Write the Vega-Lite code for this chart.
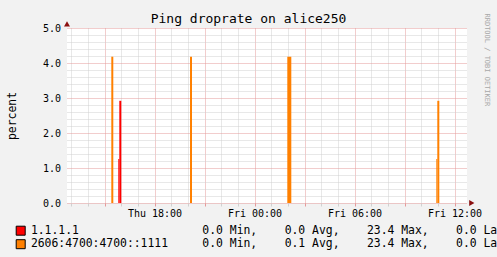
{
  "$schema": "https://vega.github.io/schema/vega-lite/v6.json",
  "width": 400,
  "height": 175,
  "autosize": {"type": "none"},
  "padding": {"left": 67, "top": 28, "right": 30, "bottom": 54},
  "background": "#f2f2f2",
  "config": {
    "view": {"stroke": null, "fill": "#ffffff"},
    "font": "DejaVu Sans Mono"
  },
  "datasets": {
    "spikes": [
      {"series": "1.1.1.1", "start": "2024-01-04T15:49:40Z", "end": "2024-01-04T15:53:20Z", "value": 1.26},
      {"series": "1.1.1.1", "start": "2024-01-04T15:53:20Z", "end": "2024-01-04T16:00:30Z", "value": 2.92},
      {"series": "2606:4700:4700::1111", "start": "2024-01-04T15:24:30Z", "end": "2024-01-04T15:31:40Z", "value": 4.18},
      {"series": "2606:4700:4700::1111", "start": "2024-01-04T20:07:50Z", "end": "2024-01-04T20:15:00Z", "value": 4.18},
      {"series": "2606:4700:4700::1111", "start": "2024-01-05T01:58:05Z", "end": "2024-01-05T02:12:30Z", "value": 4.18},
      {"series": "2606:4700:4700::1111", "start": "2024-01-05T10:54:30Z", "end": "2024-01-05T10:58:05Z", "value": 1.26},
      {"series": "2606:4700:4700::1111", "start": "2024-01-05T10:58:05Z", "end": "2024-01-05T11:05:20Z", "value": 2.92}
    ],
    "arrows": [
      {"axis": "time", "t": 1704459738000, "v": 0},
      {"axis": "percent", "t": 1704372300000, "v": 5.12}
    ]
  },
  "resolve": {"axis": {"x": "independent", "y": "independent"}},
  "layer": [
    {
      "data": {"name": "spikes"},
      "mark": {"type": "rect"},
      "encoding": {
        "x": {
          "field": "start",
          "type": "temporal",
          "scale": {"type": "utc", "domain": [1704372300000, 1704458700000]},
          "axis": {
            "orient": "bottom",
            "title": null,
            "values": [1704373200000, 1704376800000, 1704380400000, 1704384000000, 1704387600000, 1704391200000, 1704394800000, 1704398400000, 1704402000000, 1704405600000, 1704409200000, 1704412800000, 1704416400000, 1704420000000, 1704423600000, 1704427200000, 1704430800000, 1704434400000, 1704438000000, 1704441600000, 1704445200000, 1704448800000, 1704452400000, 1704456000000],
            "labelExpr": "(+datum.value - 1704326400000) % 21600000 == 0 ? utcFormat(datum.value, '%a %H:%M') : ''",
            "labelFont": "DejaVu Sans Mono",
            "labelFontSize": 10,
            "labelColor": "#000000",
            "labelPadding": 2.5,
            "labelOverlap": false,
            "labelFlush": false,
            "domain": false,
            "ticks": true,
            "tickSize": 3,
            "tickColor": {"condition": {"test": "(+datum.value - 1704326400000) % 10800000 == 0", "value": "#e49a9a"}, "value": "#d0d0d0"},
            "grid": true,
            "gridColor": {"condition": {"test": "(+datum.value - 1704326400000) % 10800000 == 0", "value": "#e49a9a"}, "value": "#d0d0d0"},
            "gridDash": [1, 1],
            "gridOpacity": 1
          }
        },
        "x2": {"field": "end"},
        "y": {
          "field": "value",
          "type": "quantitative",
          "scale": {"domain": [0, 5], "nice": false},
          "axis": {
            "orient": "left",
            "title": "percent",
            "titleFont": "DejaVu Sans Mono",
            "titleFontSize": 11.4,
            "titleFontWeight": "normal",
            "titleColor": "#000000",
            "titleAngle": 270,
            "titleX": -52,
            "titleY": 87.5,
            "titleAlign": "center",
            "titleBaseline": "alphabetic",
            "values": [0, 0.2, 0.4, 0.6, 0.8, 1, 1.2, 1.4, 1.6, 1.8, 2, 2.2, 2.4, 2.6, 2.8, 3, 3.2, 3.4, 3.6, 3.8, 4, 4.2, 4.4, 4.6, 4.8, 5],
            "labelExpr": "datum.value % 1 == 0 ? format(datum.value, '.1f') : ''",
            "labelFont": "DejaVu Sans Mono",
            "labelFontSize": 10,
            "labelColor": "#000000",
            "labelPadding": 6.5,
            "labelOverlap": false,
            "labelFlush": false,
            "domain": false,
            "ticks": false,
            "grid": true,
            "gridColor": {"condition": {"test": "datum.value % 1 == 0", "value": "#e49a9a"}, "value": "#d0d0d0"},
            "gridDash": [1, 1],
            "gridOpacity": 1
          }
        },
        "y2": {"datum": 0},
        "color": {
          "field": "series",
          "type": "nominal",
          "scale": {"domain": ["1.1.1.1", "2606:4700:4700::1111"], "range": ["#ff0000", "#ff8000"]},
          "legend": {
            "title": null,
            "orient": "none",
            "legendX": -52,
            "legendY": 197,
            "direction": "vertical",
            "padding": 0,
            "symbolType": "square",
            "symbolSize": 81,
            "symbolStrokeColor": "#000000",
            "symbolStrokeWidth": 1,
            "symbolOpacity": 1,
            "labelFont": "DejaVu Sans Mono",
            "labelFontSize": 11.4,
            "labelColor": "#000000",
            "labelOffset": 4.5,
            "labelLimit": 1000,
            "rowPadding": -0.5,
            "labelExpr": "datum.label == '1.1.1.1' ? '1.1.1.1\u00a0\u00a0\u00a0\u00a0\u00a0\u00a0\u00a0\u00a0\u00a0\u00a0\u00a0\u00a0\u00a0\u00a0\u00a0\u00a0\u00a0\u00a00.0 Min,\u00a0\u00a0\u00a0\u00a00.0 Avg,\u00a0\u00a0\u00a0\u00a023.4 Max,\u00a0\u00a0\u00a0\u00a00.0 Last' : datum.label + '\u00a0\u00a0\u00a0\u00a0\u00a00.0 Min,\u00a0\u00a0\u00a0\u00a00.1 Avg,\u00a0\u00a0\u00a0\u00a023.4 Max,\u00a0\u00a0\u00a0\u00a00.0 Last'"
          }
        }
      }
    },
    {
      "mark": {"type": "rule", "color": "#777777", "strokeWidth": 1},
      "encoding": {
        "x": {"datum": 1704372300000, "type": "temporal", "axis": null},
        "y": {"datum": -0.09, "type": "quantitative", "axis": null},
        "y2": {"datum": 5.06}
      }
    },
    {
      "mark": {"type": "rule", "color": "#6e3a12", "strokeWidth": 1.5},
      "encoding": {
        "x": {"datum": 1704371436000, "type": "temporal", "axis": null},
        "x2": {"datum": 1704459348000},
        "y": {"datum": 0, "type": "quantitative", "axis": null}
      }
    },
    {
      "data": {"name": "arrows"},
      "mark": {"type": "point", "filled": true, "color": "#8b1010", "opacity": 1, "size": 36, "strokeWidth": 0},
      "encoding": {
        "x": {
          "field": "t",
          "type": "temporal",
          "axis": {
            "orient": "top",
            "title": "Ping droprate on alice250",
            "titleFont": "DejaVu Sans Mono",
            "titleFontSize": 13,
            "titleFontWeight": "normal",
            "titleColor": "#000000",
            "titleX": 181,
            "titleY": -6,
            "titleAlign": "center",
            "titleBaseline": "alphabetic",
            "labels": false,
            "ticks": false,
            "domain": false,
            "grid": false
          }
        },
        "y": {
          "field": "v",
          "type": "quantitative",
          "axis": {
            "orient": "right",
            "title": "RRDTOOL / TOBI OETIKER",
            "titleFont": "DejaVu Sans Mono",
            "titleFontSize": 7,
            "titleFontWeight": "normal",
            "titleColor": "#a8a8a8",
            "titleAngle": 90,
            "titleX": 19.5,
            "titleY": -15,
            "titleAlign": "left",
            "titleBaseline": "middle",
            "labels": false,
            "ticks": false,
            "domain": false,
            "grid": false
          }
        },
        "shape": {
          "field": "axis",
          "type": "nominal",
          "scale": {"domain": ["time", "percent"], "range": ["triangle-right", "triangle-up"]},
          "legend": null
        }
      }
    }
  ]
}
